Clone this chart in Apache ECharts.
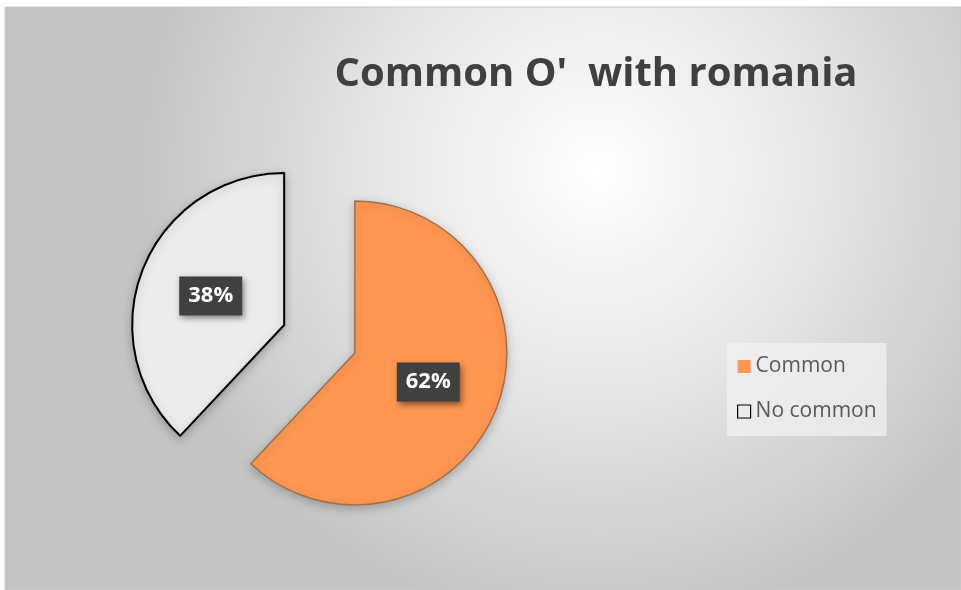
<!DOCTYPE html>
<html>
<head>
<meta charset="utf-8">
<script src="https://cdn.jsdelivr.net/npm/echarts@6/dist/echarts.min.js"></script>
<style>
html,body{margin:0;padding:0;background:#fff;}
#chart{width:961px;height:590px;}
</style>
</head>
<body>
<div id="chart"></div>
<script>
const titleText = "Common O'  with romania";
const categories = ["Common", "No common"];
const values = [62, 38];
const sliceColors = ["#FF9752", "#EBEBEB"];
const sliceBorders = ["#A0714D", "#000000"];

const chart = echarts.init(document.getElementById('chart'), null, {renderer: 'canvas'});
const font = "'Open Sans', 'Noto Sans', sans-serif";

const option = {
  animation: false,
  backgroundColor: '#ffffff',
  graphic: [{
    type: 'rect',
    z: -10,
    silent: true,
    shape: {x: 5, y: 7, width: 956, height: 583},
    style: {
      fill: {
        type: 'radial', x: 0.62, y: 0.28, r: 0.78,
        colorStops: [
          {offset: 0, color: '#ffffff'},
          {offset: 0.5, color: '#e5e5e5'},
          {offset: 1, color: '#c4c4c4'}
        ]
      },
      stroke: '#c8c8c8',
      lineWidth: 1
    }
  }],
  title: {
    text: titleText,
    left: 591,
    top: 50,
    textAlign: 'center',
    textStyle: {
      fontFamily: font,
      fontWeight: 'bold',
      fontSize: 40,
      color: '#404040'
    }
  },
  legend: {
    orient: 'vertical',
    left: 727,
    top: 343,
    padding: [13, 10, 14, 10],
    itemWidth: 13,
    itemHeight: 13,
    itemGap: 24,
    icon: 'rect',
    backgroundColor: 'rgba(240,240,240,0.75)',
    textStyle: {fontFamily: font, fontSize: 21, color: '#595959'},
    data: categories.map((c, i) => ({
      name: c,
      itemStyle: {color: sliceColors[i], borderColor: i === 0 ? sliceColors[0] : '#000', borderWidth: i === 0 ? 0 : 1.2}
    }))
  },
  series: [{
    type: 'pie',
    center: [319.5, 339],
    radius: 152,
    startAngle: 90,
    clockwise: true,
    selectedMode: 'multiple',
    selectedOffset: 38,
    avoidLabelOverlap: false,
    emphasis: {disabled: true},
    label: {
      show: true,
      position: 'inside',
      formatter: '{d}%',
      fontFamily: font,
      fontWeight: 'bold',
      fontSize: 22,
      color: '#ffffff',
      backgroundColor: '#404040',
      padding: [9, 9, 8, 9],
      shadowBlur: 6,
      shadowColor: 'rgba(0,0,0,0.45)',
      shadowOffsetX: 2,
      shadowOffsetY: 3
    },
    labelLine: {show: false},
    data: categories.map((c, i) => ({
      name: c,
      value: values[i],
      selected: true,
      itemStyle: {
        color: sliceColors[i],
        borderColor: sliceBorders[i],
        borderWidth: i === 0 ? 1.5 : 2,
        shadowBlur: 10,
        shadowColor: 'rgba(0,0,0,0.22)',
        shadowOffsetY: 3
      },
      select: {
        itemStyle: {
          color: sliceColors[i],
          borderColor: sliceBorders[i],
          borderWidth: i === 0 ? 1.5 : 2
        }
      }
    }))
  }]
};
chart.setOption(option);
</script>
</body>
</html>
